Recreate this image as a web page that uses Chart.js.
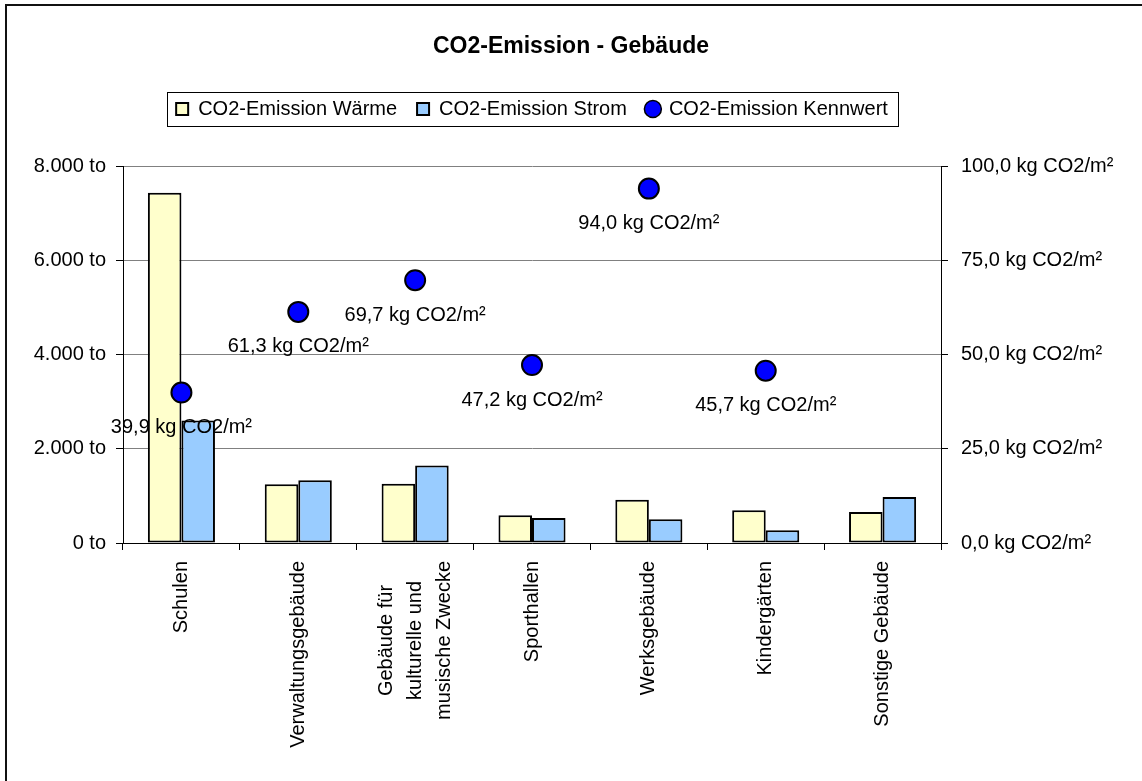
<!DOCTYPE html>
<html>
<head>
<meta charset="utf-8">
<title>CO2-Emission - Gebäude</title>
<script src="https://cdn.jsdelivr.net/npm/chart.js@4.4.1/dist/chart.umd.min.js"></script>
<style>
  html, body { margin: 0; padding: 0; background: #ffffff; }
  #wrap { position: relative; width: 1142px; height: 781px; }
</style>
</head>
<body>
<div id="wrap"><canvas id="chart"></canvas></div>
<script>
// ---- data ----
const categories = [
  'Schulen',
  'Verwaltungsgebäude',
  ['Gebäude für', 'kulturelle und', 'musische Zwecke'],
  'Sporthallen',
  'Werksgebäude',
  'Kindergärten',
  'Sonstige Gebäude'
];
const waermeEmission = [7430, 1245, 1255, 590, 920, 695, 660];   // t CO2
const stromEmission  = [2600, 1330, 1645, 530, 505, 270, 975];   // t CO2
const kennwert       = [39.9, 61.3, 69.7, 47.2, 94.0, 45.7, null]; // kg CO2/m²
const seriesNames    = ['CO2-Emission Wärme', 'CO2-Emission Strom', 'CO2-Emission Kennwert'];
const leftTickValues  = [0, 2000, 4000, 6000, 8000];
const rightTickValues = [0, 25, 50, 75, 100];
const chartTitle = 'CO2-Emission - Gebäude';

// ---- formatting ----
const FONT = '"Liberation Sans", Arial, Helvetica, sans-serif';
function formatTonnes(v) {
  return String(Math.round(v)).replace(/\B(?=(\d{3})+(?!\d))/g, '.') + ' to';
}
function formatKennwert(v) {
  return v.toFixed(1).replace('.', ',') + ' kg CO2/m²';
}

// ---- plugins ----
// Adds room between the legend and the plot area.
const legendGap = {
  id: 'legendGap',
  beforeInit(chart) {
    const legend = chart.legend;
    if (!legend) return;
    const fit = legend.fit;
    legend.fit = function () { fit.call(this); this.height += 37; };
  }
};

// Outline around the legend entries and the outer chart frame.
const frames = {
  id: 'frames',
  afterDraw(chart) {
    const ctx = chart.ctx;
    ctx.save();
    // outer frame (left and top edges)
    ctx.fillStyle = '#111111';
    ctx.fillRect(5, 4, 2, 781);
    ctx.fillRect(5, 4, 1142, 2);
    // legend box
    const hb = chart.legend && chart.legend.legendHitBoxes;
    if (hb && hb.length) {
      const first = hb[0], last = hb[hb.length - 1];
      const left = Math.round(first.left - 9);
      const right = Math.round(last.left + last.width + 10);
      const cy = first.top + first.height / 2;
      ctx.strokeStyle = '#000000';
      ctx.lineWidth = 1;
      ctx.strokeRect(left + 0.5, Math.round(cy - 17) + 0.5, right - left, 34);
    }
    ctx.restore();
  }
};

// Value labels under the Kennwert points.
const pointLabels = {
  id: 'pointLabels',
  afterDatasetsDraw(chart) {
    const ctx = chart.ctx;
    const meta = chart.getDatasetMeta(2);
    ctx.save();
    ctx.font = '20px ' + FONT;
    ctx.fillStyle = '#000000';
    ctx.textAlign = 'center';
    ctx.textBaseline = 'middle';
    meta.data.forEach((pt, i) => {
      const v = kennwert[i];
      if (v === null || v === undefined) return;
      ctx.fillText(formatKennwert(v), pt.x, pt.y + 35);
    });
    ctx.restore();
  }
};

// Vertical category labels, multi-line labels centred on their category.
const categoryLabels = {
  id: 'categoryLabels',
  afterDraw(chart) {
    const ctx = chart.ctx;
    const xs = chart.scales.x;
    const top = xs.top + 18;
    const lineHeight = 29;
    ctx.save();
    ctx.font = '20px ' + FONT;
    ctx.fillStyle = '#000000';
    ctx.textAlign = 'center';
    ctx.textBaseline = 'middle';
    categories.forEach((cat, i) => {
      const lines = Array.isArray(cat) ? cat : [cat];
      const maxW = Math.max(...lines.map(l => ctx.measureText(l).width));
      const cx = xs.getPixelForValue(i);
      ctx.save();
      ctx.translate(cx, top);
      ctx.rotate(-Math.PI / 2);
      lines.forEach((l, j) => {
        ctx.fillText(l, -maxW / 2, (j - (lines.length - 1) / 2) * lineHeight);
      });
      ctx.restore();
    });
    ctx.restore();
  }
};

// ---- chart ----
new Chart(document.getElementById('chart'), {
  type: 'bar',
  data: {
    labels: categories,
    datasets: [
      {
        label: seriesNames[0],
        data: waermeEmission,
        backgroundColor: '#FFFFCC',
        borderColor: '#000000',
        borderWidth: 2,
        borderSkipped: false,
        categoryPercentage: 0.574,
        barPercentage: 1.0,
        yAxisID: 'y'
      },
      {
        label: seriesNames[1],
        data: stromEmission,
        backgroundColor: '#99CCFF',
        borderColor: '#000000',
        borderWidth: 2,
        borderSkipped: false,
        categoryPercentage: 0.574,
        barPercentage: 1.0,
        yAxisID: 'y'
      },
      {
        type: 'line',
        label: seriesNames[2],
        data: kennwert,
        showLine: false,
        pointRadius: 10,
        pointHoverRadius: 10,
        pointBackgroundColor: '#0000FF',
        pointBorderColor: '#000000',
        pointBorderWidth: 2,
        backgroundColor: '#0000FF',
        borderColor: '#000000',
        yAxisID: 'y1',
        order: -1
      }
    ]
  },
  options: {
    responsive: true,
    maintainAspectRatio: false,
    animation: false,
    events: [],
    layout: { padding: 0 },
    plugins: {
      title: {
        display: true,
        text: chartTitle,
        color: '#000000',
        font: { family: FONT, size: 23, weight: 'bold' },
        padding: { top: 33, bottom: 18.4 }
      },
      legend: {
        display: true,
        position: 'top',
        fullSize: false,
        labels: {
          color: '#000000',
          font: { family: FONT, size: 20 },
          usePointStyle: true,
          boxWidth: 12,
          boxHeight: 12,
          padding: 20,
          sort: (a, b) => a.datasetIndex - b.datasetIndex,
          generateLabels(chart) {
            const items = Chart.defaults.plugins.legend.labels.generateLabels(chart);
            items.forEach(it => {
              it.pointStyle = it.datasetIndex < 2 ? 'rect' : 'circle';
              it.strokeStyle = '#000000';
              it.lineWidth = it.datasetIndex < 2 ? 2 : 1.5;
              it.fillStyle = chart.data.datasets[it.datasetIndex].backgroundColor;
            });
            return items;
          }
        }
      },
      tooltip: { enabled: false }
    },
    scales: {
      x: {
        type: 'category',
        offset: true,
        grid: {
          display: true,
          offset: true,
          drawOnChartArea: false,
          drawTicks: true,
          tickLength: 7,
          tickColor: '#000000'
        },
        border: { display: true, color: '#000000', width: 1 },
        ticks: { display: false },
        afterFit(scale) { scale.height = 238; }
      },
      y: {
        type: 'linear',
        position: 'left',
        min: 0,
        max: 8000,
        afterBuildTicks(scale) { scale.ticks = leftTickValues.map(v => ({ value: v })); },
        grid: {
          color: '#808080',
          lineWidth: 1,
          drawTicks: true,
          tickLength: 7,
          tickColor: '#000000'
        },
        border: { display: true, color: '#000000', width: 1 },
        ticks: {
          color: '#000000',
          font: { family: FONT, size: 20 },
          padding: 10,
          callback: v => formatTonnes(v)
        },
        afterFit(scale) { scale.width = 123; }
      },
      y1: {
        type: 'linear',
        position: 'right',
        min: 0,
        max: 100,
        afterBuildTicks(scale) { scale.ticks = rightTickValues.map(v => ({ value: v })); },
        grid: {
          drawOnChartArea: false,
          drawTicks: true,
          tickLength: 7,
          tickColor: '#000000'
        },
        border: { display: true, color: '#000000', width: 1 },
        ticks: {
          color: '#000000',
          font: { family: FONT, size: 20 },
          padding: 13,
          callback: v => formatKennwert(v)
        },
        afterFit(scale) { scale.width = 201; }
      }
    }
  },
  plugins: [legendGap, frames, pointLabels, categoryLabels]
});
</script>
</body>
</html>
